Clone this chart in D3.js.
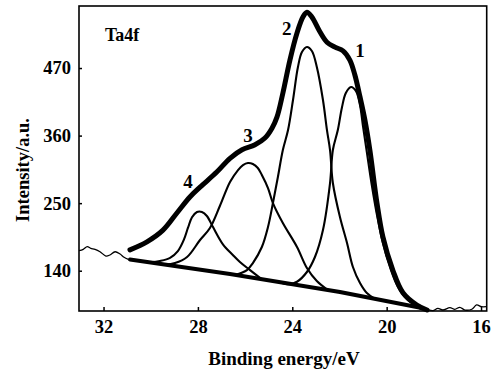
<!DOCTYPE html>
<html><head><meta charset="utf-8">
<script src="https://cdn.jsdelivr.net/npm/d3@7"></script>
<style>body{margin:0;background:#fff}svg{display:block}</style>
</head><body>
<svg id="c" width="496" height="372"></svg>
<script>
// ---------- data (binding energy eV, intensity a.u.) ----------
const xTicks = [32, 28, 24, 20, 16];
const yTicks = [140, 250, 360, 470];
const peakNames = ["1", "2", "3", "4"];

const noiseLeft = [[33.04,172.6],[32.86,174.8],[32.69,179.1],[32.54,176.5],[32.36,174.8],[32.15,170.9],[31.90,163.9],[31.73,165.6],[31.51,170.9],[31.30,167.2],[31.13,161.8],[30.95,158.6]];
const noiseRight = [[18.73,81.4],[18.31,77.2],[18.04,74.9],[17.83,78.8],[17.62,76.0],[17.32,79.8],[17.11,77.2],[16.90,80.4],[16.68,76.0],[16.39,77.2],[16.19,84.2],[15.98,81.4],[15.79,81.4]];
const baseline = [[30.88,158.2],[26.64,134.6],[21.98,105.3],[18.51,79.3]];
const envelope = [[30.88,174],[30.16,187],[29.48,206],[28.89,234],[28.34,260],[27.91,276],[27.19,301],[26.64,323],[26.13,337],[25.58,345],[25.16,356],[24.86,372],[24.65,390],[24.40,429],[24.10,483],[23.80,527],[23.55,553],[23.38,561],[23.17,553],[22.83,529],[22.53,512],[22.19,504],[21.85,498],[21.56,483],[21.35,459],[21.13,423],[20.92,385],[20.71,336],[20.41,250],[20.16,195],[19.74,141],[19.31,104],[18.72,84],[18.29,76]];
const peak1 = [[24.52,121],[24.10,118],[23.80,122],[23.38,137.9],[23.04,162.3],[22.70,206.3],[22.40,282.8],[22.28,336.5],[22.07,369],[21.90,404.9],[21.73,429.3],[21.51,439.1],[21.30,432.5],[21.13,409.8],[21.01,377.2],[20.84,333.2],[20.63,279.5],[20.41,230.7],[20.16,185.1],[19.86,146],[19.52,113.5],[19.10,92.3],[18.59,80.9]];
const peak2 = [[26.43,133],[25.92,141.1],[25.67,152.5],[25.29,178.6],[25.03,211.1],[24.82,250.2],[24.61,292.5],[24.40,336.5],[24.18,369],[23.97,417.9],[23.76,471.6],[23.59,496],[23.38,504.2],[23.17,497.7],[22.96,471.6],[22.70,417.9],[22.53,369],[22.40,336.5],[22.28,282.8],[21.98,227.4],[21.68,185.1],[21.43,146],[21.13,120],[20.84,103.7],[20.50,94.2]];
const peak3 = [[29.40,150],[28.97,152.5],[28.46,162.3],[27.91,190],[27.49,209.5],[27.07,245.3],[26.64,284.4],[26.30,303.9],[26.09,312.1],[25.88,315.3],[25.67,313.7],[25.46,307.2],[25.29,295.8],[25.03,274.6],[24.82,250.2],[24.40,217.7],[23.80,178.6],[23.38,144.4],[22.96,123.2],[22.49,108.5]];
const peak4 = [[30.03,153.5],[29.61,155.8],[29.18,161],[28.85,172],[28.59,191],[28.42,210],[28.25,227],[28.04,235.6],[27.83,235.6],[27.62,229.1],[27.36,211],[26.94,183],[26.52,165.6],[26.22,154.2],[25.79,141],[25.33,127]];

// ---------- chart ----------
const svg = d3.select("#c");
const L = 79, T = 6, R = 486.7, B = 311;
const x = d3.scaleLinear().domain([33.04, 15.76]).range([L, R]);
const y = d3.scaleLinear().domain([74.4, 571]).range([B, T]);
const FONT = "'Liberation Serif','Times New Roman',serif";

const smooth = d3.line().x(d => x(d[0])).y(d => y(d[1])).curve(d3.curveCatmullRom.alpha(0.5));
const straight = d3.line().x(d => x(d[0])).y(d => y(d[1])).curve(d3.curveLinear);

// noise
[noiseLeft, noiseRight].forEach(s =>
  svg.append("path").attr("d", smooth(s)).attr("fill", "none").attr("stroke", "#000").attr("stroke-width", 1.3));

// baseline
svg.append("path").attr("d", straight(baseline)).attr("fill", "none")
  .attr("stroke", "#000").attr("stroke-width", 4).attr("stroke-linecap", "round").attr("stroke-linejoin", "round");

// component peaks
[peak1, peak2, peak3, peak4].forEach(s =>
  svg.append("path").attr("d", smooth(s)).attr("fill", "none").attr("stroke", "#000")
    .attr("stroke-width", 2.1).attr("stroke-linejoin", "round"));

// envelope
svg.append("path").attr("d", smooth(envelope)).attr("fill", "none").attr("stroke", "#000")
  .attr("stroke-width", 5).attr("stroke-linejoin", "round").attr("stroke-linecap", "round");

// frame
svg.append("rect").attr("x", L).attr("y", T).attr("width", R - L).attr("height", B - T)
  .attr("fill", "none").attr("stroke", "#000").attr("stroke-width", 1.6);

// axes
const gx = svg.append("g").attr("transform", `translate(0,${B})`)
  .call(d3.axisBottom(x).tickValues(xTicks).tickSize(-4).tickPadding(9).tickFormat(d3.format("d")));
const gy = svg.append("g").attr("transform", `translate(${L},0)`)
  .call(d3.axisLeft(y).tickValues(yTicks).tickSize(-3).tickPadding(8).tickFormat(d3.format("d")));
[gx, gy].forEach(g => {
  g.select(".domain").remove();
  g.selectAll("line").attr("stroke", "#000").attr("stroke-width", 1.5);
  g.selectAll("text").attr("font-family", FONT).attr("font-size", 18.5).attr("font-weight", "bold").attr("fill", "#000");
});

// axis titles
svg.append("text").attr("x", 284).attr("y", 365).attr("text-anchor", "middle")
  .attr("font-family", FONT).attr("font-size", 19).attr("font-weight", "bold").text("Binding energy/eV");
svg.append("text").attr("transform", "translate(29,170) rotate(-90)").attr("text-anchor", "middle")
  .attr("font-family", FONT).attr("font-size", 18.5).attr("font-weight", "bold").text("Intensity/a.u.");

// panel label
svg.append("text").attr("x", 105).attr("y", 41).attr("font-family", FONT)
  .attr("font-size", 18).attr("font-weight", "bold").text("Ta4f");

// peak numbers anchored in data coordinates
const labelAt = {"1": [21.13, 499], "2": [24.23, 535], "3": [25.88, 361], "4": [28.42, 286]};
peakNames.forEach(n => {
  svg.append("text").attr("x", x(labelAt[n][0])).attr("y", y(labelAt[n][1])).attr("dy", "0.35em")
    .attr("text-anchor", "middle").attr("font-family", FONT).attr("font-size", 19)
    .attr("font-weight", "bold").text(n);
});
</script>
</body></html>
